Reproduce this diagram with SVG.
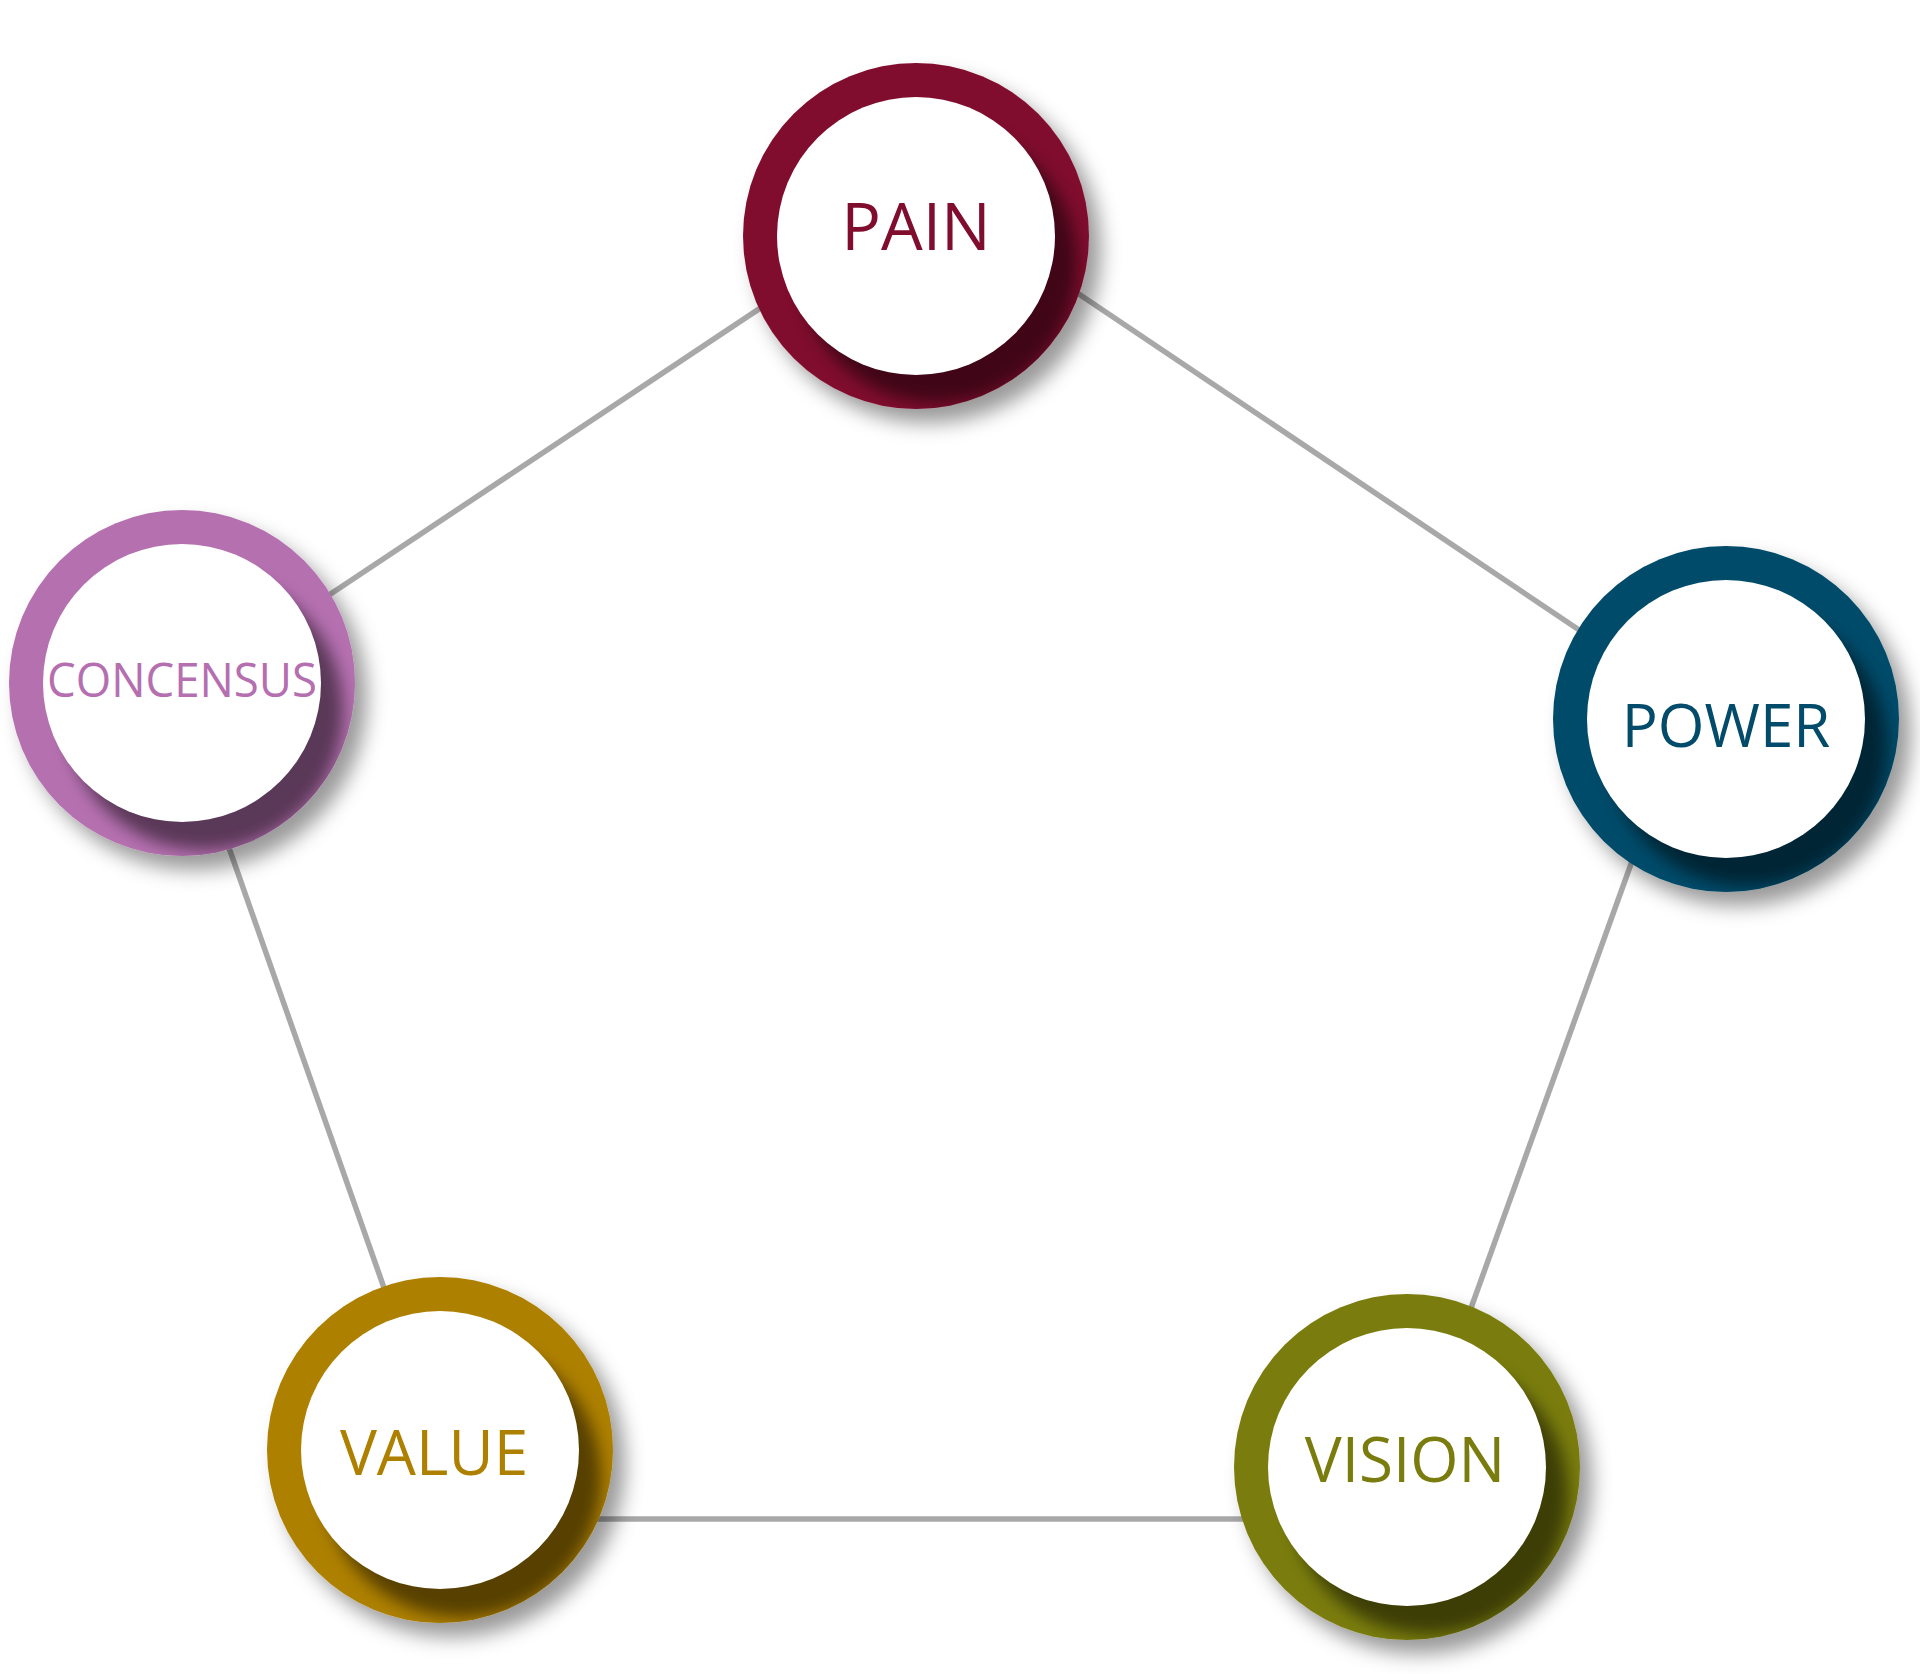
<svg xmlns="http://www.w3.org/2000/svg" width="1920" height="1674" viewBox="0 0 1920 1674">
  <style>
    .conn { stroke: #a8a8a8; stroke-width: 5.5; fill: none; stroke-linecap: butt; }
    .ring { filter: url(#outerShadow); }
    .inshadow { fill: #000; opacity: 0.5; filter: url(#blur); }
    .inner { fill: #ffffff; }
    .label { font-family: "Open Sans", "Noto Sans", "Liberation Sans", sans-serif; text-anchor: middle; }
  </style>
  <defs>
    <filter id="outerShadow" x="-30%" y="-30%" width="170%" height="170%">
      <feGaussianBlur in="SourceAlpha" stdDeviation="10"/>
      <feOffset dx="12" dy="14" result="ob"/>
      <feFlood flood-color="#000" flood-opacity="0.4"/>
      <feComposite in2="ob" operator="in" result="sh"/>
      <feMerge>
        <feMergeNode in="sh"/>
        <feMergeNode in="SourceGraphic"/>
      </feMerge>
    </filter>
    <filter id="blur" x="-30%" y="-30%" width="160%" height="160%">
      <feGaussianBlur stdDeviation="8"/>
    </filter>
    <clipPath id="ringClip">
      <circle cx="0" cy="0" r="173"/>
    </clipPath>
  </defs>
  <rect width="1920" height="1674" fill="#ffffff"/>

  <g id="connectors">
    <line class="conn" x1="783" y1="293" x2="308" y2="609"/>
    <line class="conn" x1="1055" y1="278" x2="1600" y2="644"/>
    <line class="conn" x1="1640" y1="839" x2="1462" y2="1333"/>
    <line class="conn" x1="570" y1="1519" x2="1270" y2="1519"/>
    <line class="conn" x1="228" y1="845" x2="389" y2="1302"/>
  </g>

  <g id="node-pain" transform="translate(916,236)">
    <circle class="ring" r="173" fill="#800c2e"/>
    <g clip-path="url(#ringClip)">
      <circle class="inshadow" cx="22" cy="28" r="139"/>
    </g>
    <circle class="inner" r="139"/>
    <text class="label" x="0" y="14" font-size="66" fill="#800c2e">PAIN</text>
  </g>

  <g id="node-concensus" transform="translate(182,683)">
    <circle class="ring" r="173" fill="#b56fb0"/>
    <g clip-path="url(#ringClip)">
      <circle class="inshadow" cx="22" cy="28" r="139"/>
    </g>
    <circle class="inner" r="139"/>
    <text class="label" x="0" y="14" font-size="48" fill="#b56fb0" textLength="270" lengthAdjust="spacingAndGlyphs">CONCENSUS</text>
  </g>

  <g id="node-power" transform="translate(1726,719)">
    <circle class="ring" r="173" fill="#024b6a"/>
    <g clip-path="url(#ringClip)">
      <circle class="inshadow" cx="22" cy="28" r="139"/>
    </g>
    <circle class="inner" r="139"/>
    <text class="label" x="0" y="28" font-size="60" fill="#024b6a">POWER</text>
  </g>

  <g id="node-value" transform="translate(440,1450)">
    <circle class="ring" r="173" fill="#ae8000"/>
    <g clip-path="url(#ringClip)">
      <circle class="inshadow" cx="22" cy="28" r="139"/>
    </g>
    <circle class="inner" r="139"/>
    <text class="label" x="-6" y="25" font-size="62" fill="#ae8000">VALUE</text>
  </g>

  <g id="node-vision" transform="translate(1407,1467)">
    <circle class="ring" r="173" fill="#7a7d0e"/>
    <g clip-path="url(#ringClip)">
      <circle class="inshadow" cx="22" cy="28" r="139"/>
    </g>
    <circle class="inner" r="139"/>
    <text class="label" x="-2" y="15" font-size="62" fill="#7a7d0e">VISION</text>
  </g>
</svg>
